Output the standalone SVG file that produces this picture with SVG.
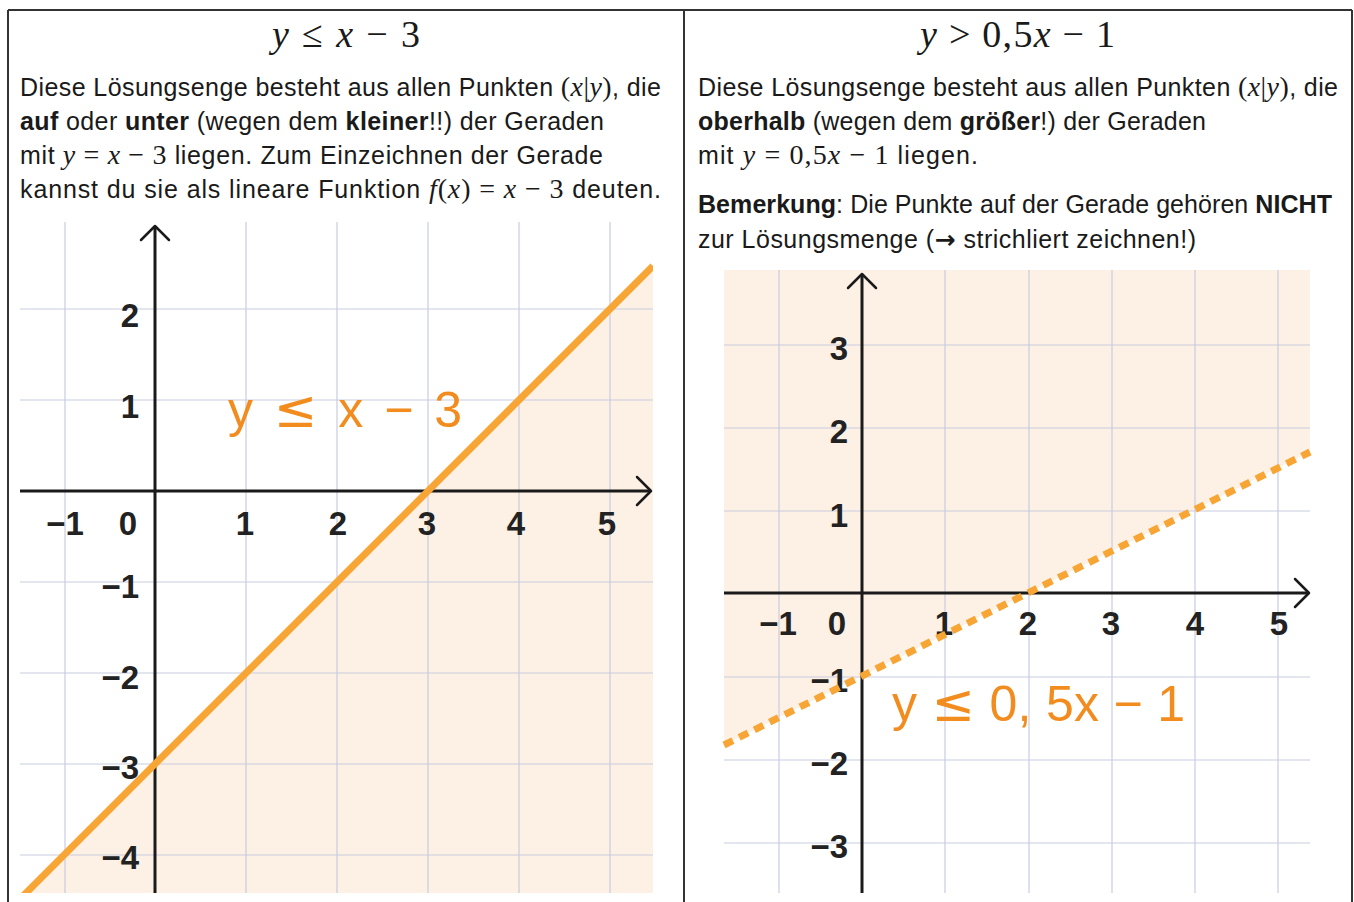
<svg xmlns="http://www.w3.org/2000/svg" width="1354" height="902" viewBox="0 0 1354 902">
<defs>
<style>
.frame{stroke:#333;stroke-width:2;fill:none}
.body{font-family:"Liberation Sans",Arial,sans-serif;font-size:25px;fill:#1a1a1a}
.b{font-weight:bold}
.m{font-family:"Liberation Serif","Times New Roman",serif;font-size:28px}
.i{font-style:italic}
.title{font-family:"Liberation Serif","Times New Roman",serif;font-size:38px;fill:#1a1a1a}
.grid{stroke:#c8cbe0;stroke-width:1.2;fill:none}
.axis{stroke:#1a1a1a;stroke-width:3;fill:none}
.arrow{stroke:#1a1a1a;stroke-width:2.5;fill:none;stroke-linecap:round;stroke-linejoin:round}
.shade{fill:#f9d3b4;fill-opacity:0.35}
.lbl{font-family:"Liberation Sans",Arial,sans-serif;font-weight:bold;font-size:33px;fill:#222}
.lx{text-anchor:middle}
.ly{text-anchor:end}
.ineq{font-family:"Liberation Sans",Arial,sans-serif;font-size:50px;fill:#f28c1e}
.le{font-family:"DejaVu Sans",sans-serif;font-size:52px}
.arr{font-family:"DejaVu Sans",sans-serif;font-weight:bold}
</style>
<clipPath id="clipL"><rect x="20" y="222" width="633" height="671"/></clipPath>
</defs>
<rect width="1354" height="902" fill="#ffffff"/>
<g id="frame">
<line class="frame" x1="8" y1="10" x2="1352" y2="10"/>
<line class="frame" x1="8" y1="10" x2="8" y2="902"/>
<line class="frame" x1="684" y1="10" x2="684" y2="902"/>
<line class="frame" x1="1352" y1="10" x2="1352" y2="902"/>
</g>
<g id="left-text">
<text class="title" x="272" y="47" textLength="148"><tspan font-style="italic">y</tspan> ≤ <tspan font-style="italic">x</tspan> − 3</text>
<text class="body" x="20" y="96" textLength="641">Diese Lösungsenge besteht aus allen Punkten <tspan class="m">(<tspan class="i">x</tspan>|<tspan class="i">y</tspan>)</tspan>, die</text>
<text class="body" x="20" y="130" textLength="584"><tspan class="b">auf</tspan> oder <tspan class="b">unter</tspan> (wegen dem <tspan class="b">kleiner</tspan>!!) der Geraden</text>
<text class="body" x="20" y="164" textLength="583">mit <tspan class="m"><tspan class="i">y</tspan> = <tspan class="i">x</tspan> − 3</tspan> liegen. Zum Einzeichnen der Gerade</text>
<text class="body" x="20" y="198" textLength="641">kannst du sie als lineare Funktion <tspan class="m"><tspan class="i">f</tspan>(<tspan class="i">x</tspan>) = <tspan class="i">x</tspan> − 3</tspan> deuten.</text>
</g>
<g id="right-text">
<text class="title" x="920" y="47" textLength="195"><tspan font-style="italic">y</tspan> &gt; 0,5<tspan font-style="italic">x</tspan> − 1</text>
<text class="body" x="698" y="96" textLength="640">Diese Lösungsenge besteht aus allen Punkten <tspan class="m">(<tspan class="i">x</tspan>|<tspan class="i">y</tspan>)</tspan>, die</text>
<text class="body" x="698" y="130" textLength="508"><tspan class="b">oberhalb</tspan> (wegen dem <tspan class="b">größer</tspan>!) der Geraden</text>
<text class="body" x="698" y="164" textLength="280">mit <tspan class="m"><tspan class="i">y</tspan> = 0,5<tspan class="i">x</tspan> − 1</tspan> liegen.</text>
<text class="body" x="698" y="213" textLength="634"><tspan class="b">Bemerkung</tspan>: Die Punkte auf der Gerade gehören <tspan class="b">NICHT</tspan></text>
<text class="body" x="698" y="248" textLength="498">zur Lösungsmenge (<tspan class="arr">→</tspan> strichliert zeichnen!)</text>
</g>
<g id="left-graph">
<g clip-path="url(#clipL)">
<polygon class="shade" points="20,899 652,267 653,267 653,893 20,893"/>
</g>
<g class="grid">
<line x1="65" y1="222" x2="65" y2="893"/>
<line x1="246" y1="222" x2="246" y2="893"/>
<line x1="337" y1="222" x2="337" y2="893"/>
<line x1="428" y1="222" x2="428" y2="893"/>
<line x1="519" y1="222" x2="519" y2="893"/>
<line x1="610" y1="222" x2="610" y2="893"/>
<line x1="20" y1="309" x2="653" y2="309"/>
<line x1="20" y1="400" x2="653" y2="400"/>
<line x1="20" y1="582" x2="653" y2="582"/>
<line x1="20" y1="673" x2="653" y2="673"/>
<line x1="20" y1="764" x2="653" y2="764"/>
<line x1="20" y1="855" x2="653" y2="855"/>
</g>
<line class="axis" x1="155" y1="226" x2="155" y2="893"/>
<line class="axis" x1="20" y1="491" x2="650" y2="491"/>
<polyline class="arrow" points="141,240 155,226 169,240"/>
<polyline class="arrow" points="637,477 651,491 637,505"/>
<g clip-path="url(#clipL)">
<line x1="20" y1="899" x2="653" y2="266" stroke="#f7a535" stroke-width="7"/>
</g>
<g class="lbl">
<text class="lx" x="65" y="535">−1</text>
<text class="lx" x="128" y="535">0</text>
<text class="lx" x="245" y="535">1</text>
<text class="lx" x="338" y="535">2</text>
<text class="lx" x="427" y="535">3</text>
<text class="lx" x="516" y="535">4</text>
<text class="lx" x="607" y="535">5</text>
<text class="ly" x="139" y="327">2</text>
<text class="ly" x="139" y="418">1</text>
<text class="ly" x="139" y="598">−1</text>
<text class="ly" x="139" y="689">−2</text>
<text class="ly" x="139" y="779">−3</text>
<text class="ly" x="139" y="869">−4</text>
</g>
<text class="ineq" x="228" y="427" textLength="234">y <tspan class="le">≤</tspan> x − 3</text>
</g>
<g id="right-graph">
<polygon class="shade" points="724,270 1310,270 1310,452 724,745"/>
<g class="grid">
<line x1="779" y1="270" x2="779" y2="893"/>
<line x1="945" y1="270" x2="945" y2="893"/>
<line x1="1029" y1="270" x2="1029" y2="893"/>
<line x1="1112" y1="270" x2="1112" y2="893"/>
<line x1="1195" y1="270" x2="1195" y2="893"/>
<line x1="1278" y1="270" x2="1278" y2="893"/>
<line x1="724" y1="345" x2="1310" y2="345"/>
<line x1="724" y1="428" x2="1310" y2="428"/>
<line x1="724" y1="511" x2="1310" y2="511"/>
<line x1="724" y1="677" x2="1310" y2="677"/>
<line x1="724" y1="760" x2="1310" y2="760"/>
<line x1="724" y1="843" x2="1310" y2="843"/>
</g>
<line class="axis" x1="862" y1="274" x2="862" y2="893"/>
<line class="axis" x1="724" y1="593" x2="1308" y2="593"/>
<polyline class="arrow" points="848,288 862,274 876,288"/>
<polyline class="arrow" points="1295,579 1309,593 1295,607"/>
<g class="lbl">
<text class="lx" x="778" y="635">−1</text>
<text class="lx" x="837" y="635">0</text>
<text class="lx" x="944" y="635">1</text>
<text class="lx" x="1028" y="635">2</text>
<text class="lx" x="1111" y="635">3</text>
<text class="lx" x="1195" y="635">4</text>
<text class="lx" x="1279" y="635">5</text>
<text class="ly" x="848" y="360">3</text>
<text class="ly" x="848" y="443">2</text>
<text class="ly" x="848" y="527">1</text>
<text class="ly" x="848" y="692">−1</text>
<text class="ly" x="848" y="775">−2</text>
<text class="ly" x="848" y="858">−3</text>
</g>
<line x1="724" y1="745" x2="1310" y2="452" stroke="#f7a535" stroke-width="7" stroke-dasharray="10 7"/>
<text class="ineq" x="892" y="721" textLength="293">y <tspan class="le">≤</tspan> 0, 5x − 1</text>
</g>
</svg>
